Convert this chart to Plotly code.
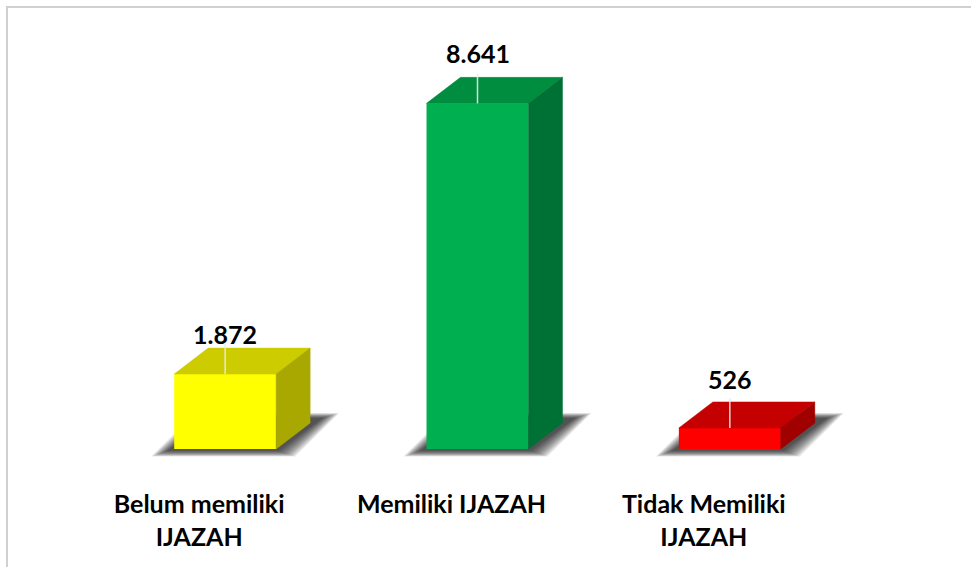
import plotly.graph_objects as go

# ---- data ----
categories = ["Belum memiliki<br>IJAZAH", "Memiliki IJAZAH", "Tidak Memiliki<br>IJAZAH"]
values = [1872, 8641, 526]
value_labels = ["1.872", "8.641", "526"]

# ---- style ----
front_colors = ["#FFFF00", "#00B050", "#FF0000"]
top_colors = ["#CCCC00", "#008D40", "#C40000"]
side_colors = ["#A8A800", "#007135", "#A00000"]
label_shift_px = [14, 24, 23]

W, H = 971, 567
ML, MR, MT, MB = 99, 115, 49, 106
X_RANGE = [-0.5, 2.5]
Y_RANGE = [-300, 10000]
px_x = (W - ML - MR) / (X_RANGE[1] - X_RANGE[0])   # pixels per x unit
px_y = (H - MT - MB) / (Y_RANGE[1] - Y_RANGE[0])   # pixels per y unit

bar_w = 0.404
dx = 34 / px_x          # depth offset (x units)
dy = 26 / px_y          # depth offset (y units)

fig = go.Figure()
shapes = []

# ---- border ----
shapes.append(dict(type="rect", xref="paper", yref="paper",
                   x0=(7 - ML) / (W - ML - MR), x1=(W + 10 - ML) / (W - ML - MR),
                   y0=(H - MB - (H + 10)) / (H - MT - MB), y1=(H - MB - 7) / (H - MT - MB),
                   line=dict(color="#D0D0D0", width=2), fillcolor="rgba(0,0,0,0)", layer="below"))

# ---- shadows (blurred parallelograms, below the traces) ----
for i, v in enumerate(values):
    x0 = i - bar_w / 2
    x1 = i + bar_w / 2
    n = 12
    sx = 44 / px_x
    for k in range(n):
        e = 13 - k * 1.5   # expansion in px
        pts = [
            (x0 - (10 + e) / px_x, (-3 - e * 0.35) / px_y),
            (x1 + (6 + e) / px_x, (-3 - e * 0.35) / px_y),
            (x1 + (6 + e) / px_x + sx, (32 + e * 0.3) / px_y),
            (x0 - (10 + e) / px_x + sx, (32 + e * 0.3) / px_y),
        ]
        path = "M " + " L ".join(f"{px},{py}" for px, py in pts) + " Z"
        shapes.append(dict(type="path", xref="x", yref="y", path=path,
                           fillcolor="rgba(0,0,0,0.085)", line=dict(width=0), layer="below"))

# ---- top and side faces ----
for i, v in enumerate(values):
    x0 = i - bar_w / 2
    x1 = i + bar_w / 2
    fig.add_trace(go.Scatter(
        x=[x0, x1, x1 + dx, x0 + dx, x0], y=[v, v, v + dy, v + dy, v],
        fill="toself", mode="lines", line=dict(width=0.5, color=top_colors[i]),
        fillcolor=top_colors[i], hoverinfo="skip", showlegend=False))
    fig.add_trace(go.Scatter(
        x=[x1, x1 + dx, x1 + dx, x1, x1], y=[0, dy, v + dy, v, 0],
        fill="toself", mode="lines", line=dict(width=0.5, color=side_colors[i]),
        fillcolor=side_colors[i], hoverinfo="skip", showlegend=False))
    # leader line on top face
    fig.add_trace(go.Scatter(
        x=[i, i], y=[v, v + dy + 4 / px_y], mode="lines",
        line=dict(width=1.5, color="rgba(235,235,235,0.9)"),
        hoverinfo="skip", showlegend=False))

# ---- front faces ----
fig.add_trace(go.Bar(x=list(range(len(values))), y=values, width=bar_w,
                     marker=dict(color=front_colors, line=dict(width=0)),
                     hoverinfo="skip", showlegend=False))

# ---- value labels ----
for i, v in enumerate(values):
    fig.add_annotation(x=i, y=v + dy, text="<b>" + value_labels[i] + "</b>", showarrow=False,
                       yanchor="middle", yshift=label_shift_px[i],
                       font=dict(family="Lato", size=25, color="#000000"))

fig.update_layout(
    width=W, height=H,
    margin=dict(l=ML, r=MR, t=MT, b=MB, pad=0),
    paper_bgcolor="white", plot_bgcolor="rgba(0,0,0,0)",
    font=dict(family="Lato", color="#000000"),
    shapes=shapes,
    xaxis=dict(range=X_RANGE, tickmode="array", tickvals=list(range(len(categories))),
               ticktext=["<b>" + c.replace("<br>", "</b><br><b>") + "</b>" for c in categories],
               showgrid=False, zeroline=False, showline=False, ticks="",
               tickfont=dict(family="Lato", size=25, color="#000000"),
               ticklabelshift=-26, ticklabelstandoff=26, fixedrange=True),
    yaxis=dict(range=Y_RANGE, showgrid=False, zeroline=False, showline=False,
               showticklabels=False, ticks="", fixedrange=True),
    showlegend=False,
)

fig.write_html("out.html", config={"displayModeBar": False},
               post_script="document.body.style.margin='0';")
